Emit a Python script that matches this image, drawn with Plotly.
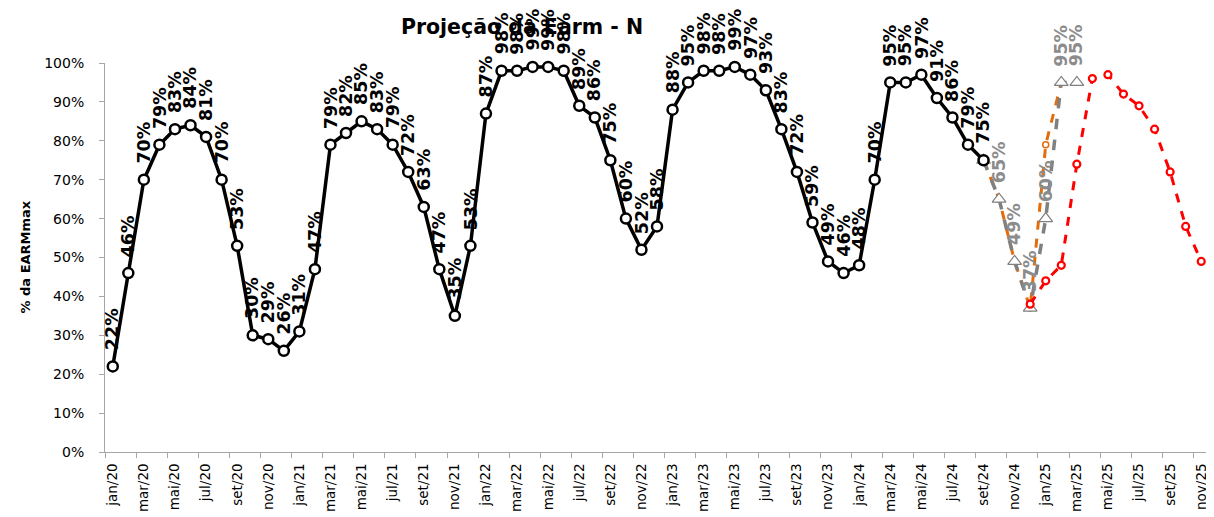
import plotly.graph_objects as go

# ---------------- data ----------------
months = ["jan", "fev", "mar", "abr", "mai", "jun", "jul", "ago", "set", "out", "nov", "dez"]
years = ["20", "21", "22", "23", "24", "25"]
categories = [f"{m}/{y}" for y in years for m in months][:71]  # jan/20 .. nov/25

# historical EARM (%), jan/20 .. set/24
hist = [22, 46, 70, 79, 83, 84, 81, 70, 53, 30, 29, 26,
        31, 47, 79, 82, 85, 83, 79, 72, 63, 47, 35, 53,
        87, 98, 98, 99, 99, 98, 89, 86, 75, 60, 52, 58,
        88, 95, 98, 98, 99, 97, 93, 83, 72, 59, 49, 46,
        48, 70, 95, 95, 97, 91, 86, 79, 75]
# gray projection, set/24 .. mar/25
proj_gray = [75, 65, 49, 37, 60, 95, 95]
# orange projection, set/24 .. fev/25
proj_orange = [75, 65, 49, 37, 79, 95]
# red projection, dez/24 .. nov/25
proj_red = [38, 44, 48, 74, 96, 97, 92, 89, 83, 72, 58, 49]

hist_start, gray_start, orange_start, red_start = 0, 56, 56, 59

tick_idx = list(range(0, 71, 2))
tick_text = [categories[i] for i in tick_idx]
boundary_ticks = [i - 0.5 for i in tick_idx]

def idx(start, vals):
    return list(range(start, start + len(vals)))

# page body has an 8px margin -> figure is offset by 8px
OFF = 8
W, H = 1214 - OFF, 517 - OFF

fig = go.Figure()

fig.add_trace(go.Scatter(
    x=idx(orange_start, proj_orange), y=proj_orange, mode="lines+markers",
    line=dict(color="#E46C0A", width=3, dash="dash"),
    marker=dict(symbol="circle", size=6, color="white", line=dict(color="#E46C0A", width=1.5)),
    showlegend=False, cliponaxis=False))
fig.add_trace(go.Scatter(
    x=idx(gray_start, proj_gray), y=proj_gray, mode="lines+markers",
    line=dict(color="#808080", width=3.5, dash="dash"),
    marker=dict(symbol="triangle-up", size=12, color="white", line=dict(color="#808080", width=1.2)),
    showlegend=False, cliponaxis=False))
fig.add_trace(go.Scatter(
    x=idx(red_start, proj_red), y=proj_red, mode="lines+markers",
    line=dict(color="#FF0000", width=3, dash="dash"),
    marker=dict(symbol="circle", size=7, color="white", line=dict(color="#FF0000", width=2.2)),
    showlegend=False, cliponaxis=False))
fig.add_trace(go.Scatter(
    x=idx(hist_start, hist), y=hist, mode="lines+markers",
    line=dict(color="black", width=3.5),
    marker=dict(symbol="circle", size=10, color="white", line=dict(color="black", width=2.5)),
    showlegend=False, cliponaxis=False))

# invisible trace for the boundary tick axis
fig.add_trace(go.Scatter(x=[0], y=[0], xaxis="x2", mode="markers",
                         marker=dict(opacity=0), showlegend=False, hoverinfo="skip"))

annotations = []
label_font = "DejaVu Sans"
for i, v in zip(idx(hist_start, hist), hist):
    annotations.append(dict(x=i, y=v, xref="x", yref="y", text=f"<b>{v}%</b>", showarrow=False,
                            textangle=-90, xanchor="center", yanchor="bottom", yshift=14,
                            font=dict(family=label_font, size=17.5, color="black")))
for i, v in list(zip(idx(gray_start, proj_gray), proj_gray))[1:]:
    annotations.append(dict(x=i, y=v, xref="x", yref="y", text=f"<b>{v}%</b>", showarrow=False,
                            textangle=-90, xanchor="center", yanchor="bottom", yshift=14,
                            font=dict(family=label_font, size=17.5, color="#8C8C8C")))
annotations.append(dict(x=(25 - 105) / 1104, y=0.5, xref="paper", yref="paper",
                        text="<b>% da EARMmax</b>", showarrow=False, textangle=-90,
                        xanchor="center", yanchor="middle",
                        font=dict(family="DejaVu Sans", size=13, color="black")))

fig.update_layout(
    width=W, height=H,
    margin=dict(l=105 - OFF, r=5, t=63 - OFF, b=H - (452 - OFF), autoexpand=False),
    paper_bgcolor="white", plot_bgcolor="white",
    title=dict(text="<b>Projeção da Earm - N</b>", x=(522 - OFF) / W, xanchor="center",
               y=1 - (27 - OFF) / H, yanchor="middle", automargin=False,
               font=dict(family="DejaVu Sans", size=20.5, color="black")),
    xaxis=dict(range=[-0.5, 70.5], tickmode="array", tickvals=tick_idx, ticktext=tick_text,
               tickangle=-90, ticks="", showline=True, linecolor="#A6A6A6", linewidth=1,
               showgrid=False, zeroline=False, ticklabelstandoff=5, automargin=False,
               tickfont=dict(family="DejaVu Sans", size=13.5, color="black")),
    xaxis2=dict(range=[-0.5, 70.5], overlaying="x", anchor="y", side="bottom",
                tickmode="array", tickvals=boundary_ticks, showticklabels=False,
                ticks="outside", ticklen=5, tickcolor="#A6A6A6", showline=False,
                showgrid=False, zeroline=False, automargin=False),
    yaxis=dict(range=[0, 100], tickmode="linear", tick0=0, dtick=10, ticksuffix="%",
               ticks="outside", ticklen=5, tickcolor="#A6A6A6", showline=True,
               linecolor="#A6A6A6", linewidth=1, showgrid=False, zeroline=False,
               ticklabelstandoff=12, automargin=False,
               tickfont=dict(family="DejaVu Sans", size=14, color="black")),
    annotations=annotations,
)

fig.write_html("out.html")
